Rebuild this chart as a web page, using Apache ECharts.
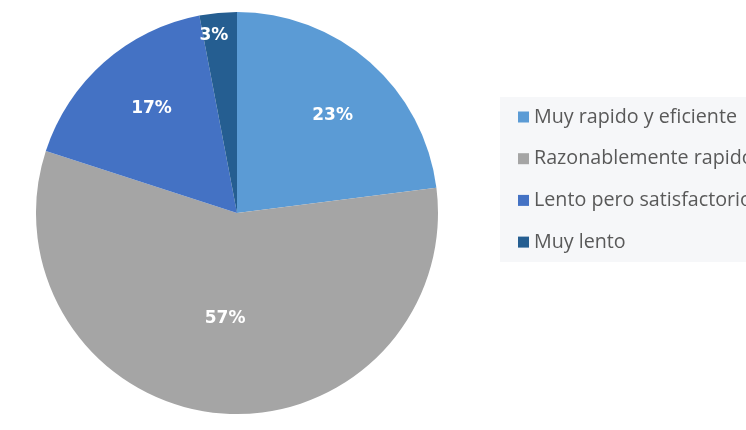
<!DOCTYPE html>
<html>
<head>
<meta charset="utf-8">
<script src="https://cdn.jsdelivr.net/npm/echarts@6/dist/echarts.min.js"></script>
<style>
  html, body { margin: 0; padding: 0; background: #ffffff; }
  #chart { width: 746px; height: 430px; }
</style>
</head>
<body>
<div id="chart"></div>
<script>
// Survey answers and their shares (percent)
const categories = [
  'Muy rapido y eficiente',
  'Razonablemente rapido',
  'Lento pero satisfactorio',
  'Muy lento'
];
const shares = [23, 57, 17, 3];
const sliceColors = ['#5b9bd5', '#a5a5a5', '#4472c4', '#255e91'];

// Percent label placement: fraction of the radius and a small angular nudge (degrees)
const labelRadiusFraction = [0.68, 0.53, 0.67, 0.89];
const labelAngleNudge = [3, 1, 2, -2];

const CENTER = [237, 213];
const RADIUS = 201;

const total = shares.reduce((a, b) => a + b, 0);
// mid angle of each slice, measured clockwise from 12 o'clock
const midAngles = [];
let acc = 0;
shares.forEach(v => {
  midAngles.push(((acc + v / 2) / total) * 2 * Math.PI);
  acc += v;
});

const chart = echarts.init(document.getElementById('chart'), null, { renderer: 'canvas' });

chart.setOption({
  backgroundColor: '#ffffff',
  animation: false,
  color: sliceColors,
  legend: {
    orient: 'vertical',
    left: 500,
    top: 97,
    padding: [10, 20, 10, 18],
    backgroundColor: '#f6f7f9',
    itemWidth: 11,
    itemHeight: 11,
    itemGap: 21.7,
    icon: 'rect',
    selectedMode: false,
    textStyle: {
      fontFamily: 'Open Sans',
      fontSize: 19.7,
      lineHeight: 20,
      color: '#595959'
    },
    data: categories
  },
  series: [{
    type: 'pie',
    center: CENTER,
    radius: RADIUS,
    startAngle: 90,
    clockwise: true,
    avoidLabelOverlap: false,
    silent: true,
    itemStyle: { borderWidth: 0 },
    label: {
      show: true,
      position: 'inside',
      formatter: p => p.value + '%',
      color: '#ffffff',
      fontFamily: 'DejaVu Sans',
      fontWeight: 'bold',
      fontSize: 17
    },
    labelLine: { show: false },
    labelLayout: function (params) {
      const i = params.dataIndex;
      const a = midAngles[i] + labelAngleNudge[i] * Math.PI / 180;
      const r = labelRadiusFraction[i] * RADIUS;
      return {
        x: CENTER[0] + r * Math.sin(a),
        y: CENTER[1] - r * Math.cos(a),
        align: 'center',
        verticalAlign: 'middle'
      };
    },
    data: categories.map((name, i) => ({ name: name, value: shares[i] }))
  }]
});
</script>
</body>
</html>
